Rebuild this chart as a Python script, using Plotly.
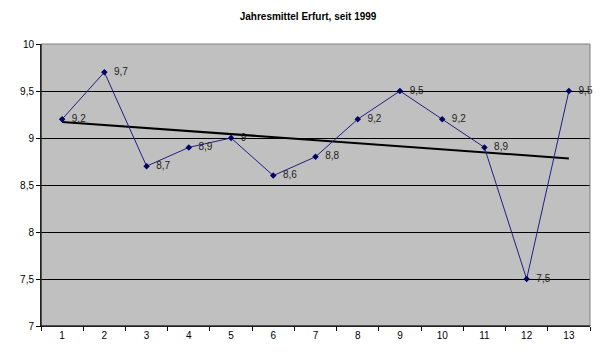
import numpy as np
import plotly.graph_objects as go

categories = ["1", "2", "3", "4", "5", "6", "7", "8", "9", "10", "11", "12", "13"]
values = [9.2, 9.7, 8.7, 8.9, 9.0, 8.6, 8.8, 9.2, 9.5, 9.2, 8.9, 7.5, 9.5]
y_ticks = [7, 7.5, 8, 8.5, 9, 9.5, 10]
y_ticklabels = ["7", "7,5", "8", "8,5", "9", "9,5", "10"]
title = "Jahresmittel Erfurt, seit 1999"


def fmt(v):
    s = ("%.1f" % v).rstrip("0").rstrip(".")
    return s.replace(".", ",")


labels = ["  " + fmt(v) for v in values]

xi = np.arange(1, len(values) + 1)
slope, intercept = np.polyfit(xi, values, 1)
trend = [slope * i + intercept for i in xi]

fig = go.Figure()
fig.add_trace(go.Scatter(
    x=categories, y=trend, mode="lines",
    line=dict(color="black", width=2), hoverinfo="skip", showlegend=False,
))
fig.add_trace(go.Scatter(
    x=categories, y=values, mode="lines+markers+text",
    line=dict(color="#1f1f88", width=1),
    marker=dict(symbol="diamond", size=5, color="#000066"),
    text=labels, textposition="middle right",
    textfont=dict(family="Liberation Sans, Arial", size=10, color="#222222"),
    cliponaxis=False, showlegend=False,
))

fig.update_layout(
    width=605, height=356,
    margin=dict(l=33, r=23, t=36, b=38),
    paper_bgcolor="white", plot_bgcolor="#C0C0C0",
    title=dict(text="<b>" + title + "</b>", x=0.496, xanchor="center", y=0.977, yanchor="middle",
               font=dict(family="Liberation Sans, Arial", size=10, color="black")),
    font=dict(family="Liberation Sans, Arial", size=10, color="black"),
    xaxis=dict(type="category", tickson="boundaries", ticks="outside", ticklen=4,
               tickcolor="black", showline=True, linecolor="black", linewidth=1,
               showgrid=False, range=[-0.5, len(categories) - 0.5],
               tickfont=dict(size=10)),
    yaxis=dict(range=[7, 10], tickvals=y_ticks, ticktext=y_ticklabels, ticks="outside",
               ticklen=4, tickcolor="black", showline=True, linecolor="black", linewidth=1,
               showgrid=True, gridcolor="black", gridwidth=1, zeroline=False,
               tickfont=dict(size=10)),
    shapes=[dict(type="rect", xref="paper", yref="paper", x0=0, x1=1, y0=0, y1=1,
                 line=dict(color="#808080", width=1), layer="above")],
)
fig.add_shape(type="line", xref="paper", yref="paper", x0=0, x1=0, y0=0, y1=1,
              line=dict(color="black", width=1), layer="above")
fig.add_shape(type="line", xref="paper", yref="paper", x0=0, x1=1, y0=0, y1=0,
              line=dict(color="black", width=1), layer="above")

fig.write_html("out.html")
